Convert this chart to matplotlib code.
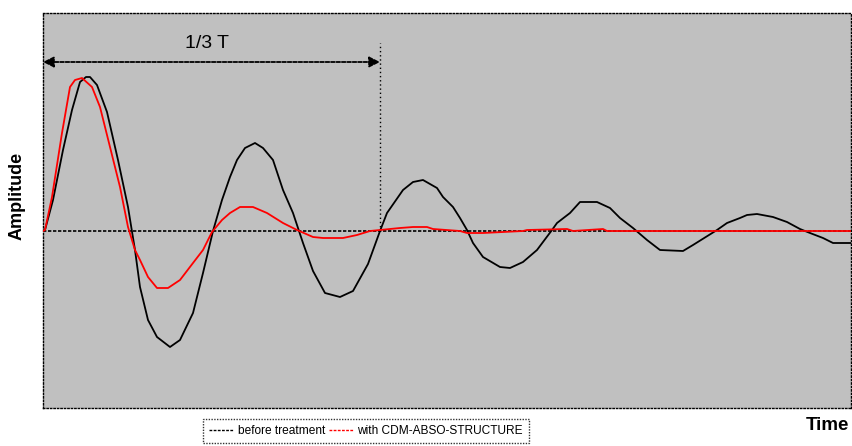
import matplotlib.pyplot as plt
from matplotlib.lines import Line2D

plt.rcParams['font.family'] = ['Liberation Sans', 'DejaVu Sans']

# time samples and amplitudes (zero line = 0)
t_before = [0, 2, 10, 20, 29, 37, 43, 47, 54, 64, 75, 85, 92, 97, 105, 114, 127, 137, 150, 160,
            170, 179, 187, 194, 202, 212, 220, 230, 240, 250, 260, 270, 282, 297, 310, 325,
            337, 344, 360, 370, 380, 394, 400, 410, 417, 424, 430, 440, 457, 467, 480, 494,
            509, 514, 527, 537, 554, 567, 577, 590, 604, 617, 640, 650, 674, 684, 697, 704,
            714, 730, 744, 757, 767, 780, 790, 808]
a_before = [0, 1, 31, 81, 121, 149, 154, 154, 146, 119, 71, 24, -19, -56, -89, -106, -116, -109,
            -82, -42, 0, 31, 54, 71, 83, 88, 83, 71, 41, 18, -12, -40, -62, -66, -60, -33, 0,
            18, 41, 49, 51, 43, 34, 24, 13, 1, -12, -26, -36, -37, -31, -19, 1, 8, 18, 29,
            29, 23, 13, 3, -9, -19, -20, -14, 1, 8, 13, 16, 17, 14, 9, 2, -2, -7, -12, -12]

t_after = [0, 2, 9, 19, 27, 32, 39, 49, 57, 67, 77, 85, 92, 97, 105, 114, 125, 137, 150, 160,
           169, 179, 187, 197, 210, 224, 240, 254, 270, 280, 300, 314, 327, 337, 357, 370,
           384, 390, 417, 424, 440, 480, 484, 524, 530, 560, 564, 808]
a_after = [0, 1, 34, 98, 144, 151, 153, 144, 124, 84, 44, 4, -19, -29, -46, -57, -57, -49,
           -32, -19, -1, 11, 18, 24, 24, 18, 8, 1, -6, -7, -7, -4, 0, 1, 3, 4, 4, 2, 0, -2,
           -2, 0, 1, 2, 0, 2, 0, 0]

W, H = 852, 446
fig = plt.figure(figsize=(W / 100, H / 100), dpi=100)
ax = fig.add_axes([43 / W, (H - 408) / H, 808 / W, 395 / H])
ax.set_facecolor('#c0c0c0')
ax.set_xlim(0, 808)
ax.set_ylim(-177, 218)
ax.set_xticks([])
ax.set_yticks([])
for s in ax.spines.values():
    s.set_linestyle((0, (1, 1.5)))
    s.set_linewidth(1.0)
    s.set_color('black')

ax.axhline(0, color='black', ls=(0, (2, 1)), lw=1.2, zorder=1)
ax.plot(t_before, a_before, color='black', lw=1.3, zorder=2)
ax.plot(t_after, a_after, color='#ff0000', lw=1.3, zorder=3)

# 1/3 T marker
ax.plot([337, 337], [0, 188], color='black', ls=(0, (1, 2)), lw=1.0)
ax.annotate('', xy=(0, 169), xytext=(337, 169),
            arrowprops=dict(arrowstyle='<|-|>', color='black', lw=1.3, ls=(0, (2, 1)),
                            shrinkA=0, shrinkB=0, mutation_scale=16))
ax.text(164, 187, '1/3 T', ha='center', va='center', fontsize=14)

fig.text(17 / W, 1 - 196 / H, 'Amplitude', rotation=90, ha='center', va='center',
         fontsize=13, fontweight='bold')
fig.text(827 / W, 1 - 425 / H, 'Time', ha='center', va='center',
         fontsize=13.5, fontweight='bold')

handles = [Line2D([], [], color='black', ls=(0, (2, 1)), lw=1.0),
           Line2D([], [], color='#ff0000', ls=(0, (2, 1)), lw=1.0)]
leg = fig.legend(handles, ['before treatment', 'with CDM-ABSO-STRUCTURE'],
                 loc='center', bbox_to_anchor=(366 / W, 1 - 431 / H), ncol=2,
                 fontsize=8.6, frameon=True, fancybox=False, handlelength=2.1,
                 handletextpad=0.3, columnspacing=0.3, borderpad=0.5)
fr = leg.get_frame()
fr.set_edgecolor('black')
fr.set_linestyle((0, (1, 1)))
fr.set_linewidth(1.0)

fig.savefig('out.png', dpi=100)
